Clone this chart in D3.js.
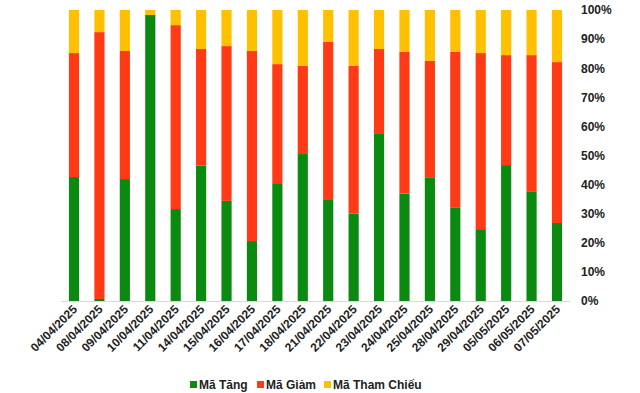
<!DOCTYPE html>
<html><head><meta charset="utf-8">
<script src="https://cdn.jsdelivr.net/npm/d3@7"></script>
<style>body{margin:0;background:#fff}svg{display:block;font-family:Arial,"Liberation Sans",sans-serif}</style>
</head><body>
<svg id="c" width="640" height="393"></svg>
<script>
const categories = ["04/04/2025","08/04/2025","09/04/2025","10/04/2025","11/04/2025","14/04/2025","15/04/2025","16/04/2025","17/04/2025","18/04/2025","21/04/2025","22/04/2025","23/04/2025","24/04/2025","25/04/2025","28/04/2025","29/04/2025","05/05/2025","06/05/2025","07/05/2025"];
const maTang = [42.6,0.7,41.9,98.3,31.6,46.5,34.4,20.6,40.5,50.5,34.7,30.0,57.4,36.9,42.3,32.0,24.7,46.7,37.5,26.8];
const maGiam = [42.6,91.7,44.0,0.0,63.2,40.1,53.2,65.3,40.9,30.3,54.3,50.8,29.2,48.7,40.2,53.6,60.5,37.8,47.0,55.3];
const maThamChieu = [14.8,7.6,14.1,1.7,5.2,13.4,12.4,14.1,18.6,19.2,11.0,19.2,13.4,14.4,17.5,14.4,14.8,15.5,15.5,17.9];
const seriesNames = ["Mã Tăng","Mã Giảm","Mã Tham Chiếu"];
const colors = ["#0B8A12","#FF3A14","#FFC000"];
const yTicks = [0,10,20,30,40,50,60,70,80,90,100];

const svg = d3.select("#c");
const x = d3.scaleBand().domain(categories).range([61.3,569.7]).paddingInner(0.6).paddingOuter(0.3);
const y = d3.scaleLinear().domain([0,100]).range([301,10]);

const rows = categories.map((c,i)=>({cat:c, s0:maTang[i], s1:maGiam[i], s2:maThamChieu[i]}));
const stack = d3.stack().keys(["s0","s1","s2"]).offset(d3.stackOffsetExpand);
const stacked = stack(rows);

svg.append("g").selectAll("g").data(stacked).join("g")
  .attr("fill",(d,i)=>colors[i])
  .selectAll("rect").data(d=>d).join("rect")
  .attr("x",d=>x(d.data.cat))
  .attr("width",x.bandwidth())
  .attr("y",d=>y(d[1]*100))
  .attr("height",d=>y(d[0]*100)-y(d[1]*100));

// baseline
svg.append("line").attr("x1",61).attr("x2",570).attr("y1",301.5).attr("y2",301.5)
  .attr("stroke","#d9d9d9").attr("stroke-width",1);

// right axis
const yAxis = d3.axisRight(y).tickValues(yTicks).tickFormat(d=>d+"%").tickSize(0).tickPadding(0);
const ga = svg.append("g").attr("transform","translate(581,0)").call(yAxis);
ga.select(".domain").remove();
ga.selectAll("text").attr("font-size","12px").attr("font-weight","bold").attr("fill","#222")
  .attr("font-family","Arial, 'Liberation Sans', sans-serif");

// x labels
const xAxis = d3.axisBottom(x).tickSize(0).tickPadding(0);
const gx = svg.append("g").attr("transform","translate(0,301)").call(xAxis);
gx.select(".domain").remove();
gx.selectAll("text")
  .attr("font-size","12px").attr("font-weight","bold").attr("fill","#222")
  .attr("font-family","Arial, 'Liberation Sans', sans-serif")
  .attr("text-anchor","end").attr("dy",0).attr("y",0)
  .attr("transform","translate(4,9) rotate(-45)");

// legend
const legX = [190,257,324];
const lg = svg.append("g");
seriesNames.forEach((n,i)=>{
  lg.append("rect").attr("x",legX[i]).attr("y",381).attr("width",7).attr("height",7).attr("fill",colors[i]);
  lg.append("text").attr("x",legX[i]+9).attr("y",389).text(n)
    .attr("font-size","12px").attr("font-weight","bold").attr("fill","#222");
});
</script>
</body></html>
